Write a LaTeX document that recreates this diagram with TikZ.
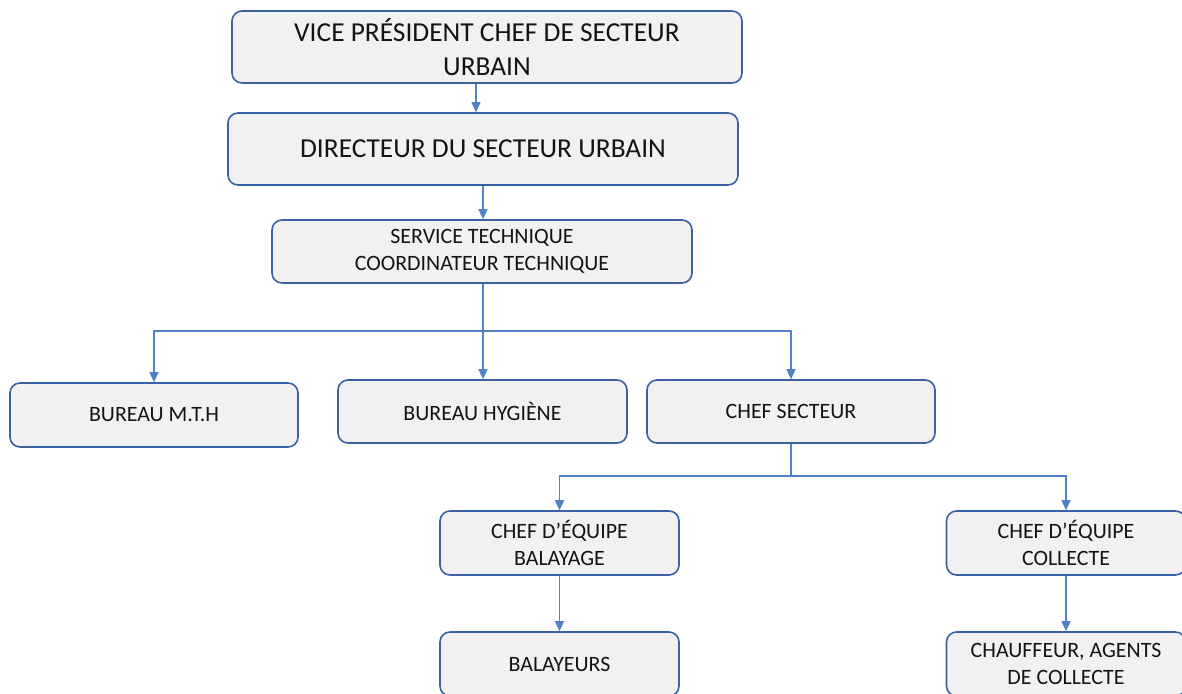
\documentclass[tikz,border=0pt]{standalone}
\usepackage{fontspec}
\setmainfont{Carlito}
\usetikzlibrary{arrows.meta}
\definecolor{boxborder}{HTML}{3A62A0}
\definecolor{boxfill}{HTML}{F1F1F1}
\definecolor{linkcol}{HTML}{4F81C4}
\begin{document}
\begin{tikzpicture}[x=1pt,y=-1pt,
  orgbox/.style={draw=boxborder,fill=boxfill,line width=1.6pt,rounded corners=10pt,
    align=center,inner sep=0pt,text=black!92},
  bigtxt/.style={font=\fontsize{27.4}{34.5}\selectfont},
  smalltxt/.style={font=\fontsize{21.9}{26.5}\selectfont},
  link/.style={draw=linkcol,line width=1.3pt},
  arr/.style={link,-{Triangle[width=9pt,length=10pt]}}]
\useasboundingbox (0,0) rectangle (1182,693);
\node[orgbox,bigtxt,minimum width=510pt,minimum height=72pt] (vp) at (487,47) {VICE PRÉSIDENT CHEF DE SECTEUR\\URBAIN};
\node[orgbox,bigtxt,minimum width=510pt,minimum height=72pt] (dir) at (483,149) {DIRECTEUR DU SECTEUR URBAIN};
\node[orgbox,smalltxt,minimum width=420pt,minimum height=63pt] (st) at (482,251.5) {SERVICE TECHNIQUE\\COORDINATEUR TECHNIQUE};
\node[orgbox,smalltxt,minimum width=288pt,minimum height=64pt] (mth) at (154,415) {BUREAU M.T.H};
\node[orgbox,smalltxt,minimum width=289pt,minimum height=63pt] (hyg) at (482.5,411.5) {BUREAU HYGIÈNE};
\node[orgbox,smalltxt,minimum width=288pt,minimum height=63pt] (cs) at (791,411.5) {CHEF SECTEUR};
\node[orgbox,smalltxt,minimum width=239pt,minimum height=64pt] (bal) at (559.5,543) {CHEF D’ÉQUIPE\\BALAYAGE};
\node[orgbox,smalltxt,minimum width=239pt,minimum height=64pt] (col) at (1066,543) {CHEF D’ÉQUIPE\\COLLECTE};
\node[orgbox,smalltxt,minimum width=239pt,minimum height=64pt] (bys) at (559.5,664) {BALAYEURS};
\node[orgbox,smalltxt,minimum width=239pt,minimum height=64pt] (chf) at (1066,664) {CHAUFFEUR, AGENTS\\DE COLLECTE};
\coordinate (j1) at (483,331);
\coordinate (j2) at (791,476);
% connectors
\draw[arr] (vp.south -| 476,0) -- (dir.north -| 476,0);
\draw[arr] (dir.south -| 483,0) -- (st.north -| 483,0);
\draw[link] (st.south -| j1) -- (j1);
\draw[arr] (j1) -| (mth.north);
\draw[arr] (j1) -- (hyg.north -| j1);
\draw[arr] (j1) -| (cs.north);
\draw[link] (cs.south) -- (j2);
\draw[arr] (j2) -| (bal.north);
\draw[arr] (j2) -| (col.north);
\draw[arr] (bal.south) -- (bys.north);
\draw[arr] (col.south) -- (chf.north);
\end{tikzpicture}
\end{document}
